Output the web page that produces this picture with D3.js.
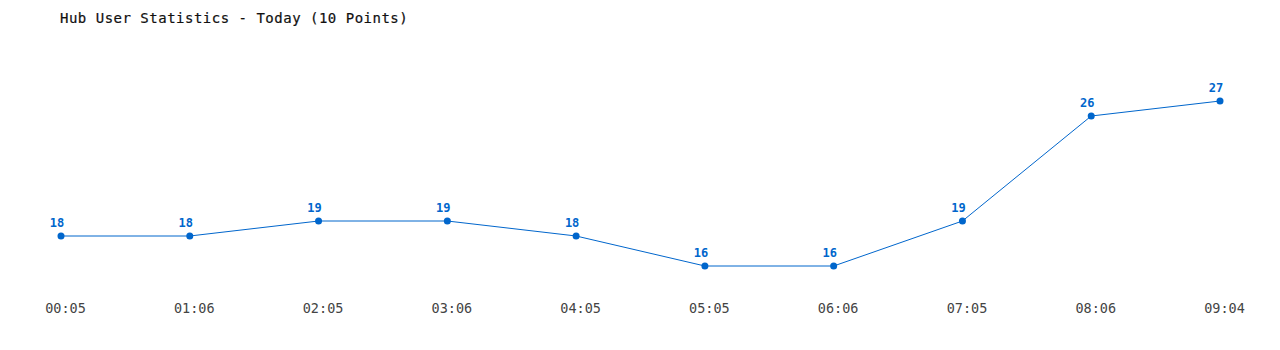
<!DOCTYPE html>
<html>
<head>
<meta charset="utf-8">
<script src="https://cdn.jsdelivr.net/npm/d3@7"></script>
<style>
  body { margin: 0; background: #fff; }
  svg { display: block; }
</style>
</head>
<body>
<div id="chart"></div>
<script>
var width = 1280, height = 350;

var times = ['00:05', '01:06', '02:05', '03:06', '04:05', '05:05', '06:06', '07:05', '08:06', '09:04'];
var users = [18, 18, 19, 19, 18, 16, 16, 19, 26, 27];
var title = 'Hub User Statistics - Today (10 Points)';

var data = times.map((t, i) => ({ time: t, value: users[i] }));

var svg = d3.select('#chart').append('svg')
    .attr('width', width)
    .attr('height', height);

var x = d3.scalePoint()
    .domain(times)
    .range([61, 1220]);

var y = d3.scaleLinear()
    .domain([16, 27])
    .range([266, 101]);

svg.append('text')
    .attr('x', 60)
    .attr('y', 23)
    .attr('font-family', 'DejaVu Sans Mono, monospace')
    .attr('font-size', 14)
    .attr('letter-spacing', 0.5)
    .attr('fill', '#111')
    .attr('stroke', '#111')
    .attr('stroke-width', 0.2)
    .text(title);

var line = d3.line()
    .x((d) => x(d.time))
    .y((d) => y(d.value));

svg.append('path')
    .datum(data)
    .attr('d', line)
    .attr('fill', 'none')
    .attr('stroke', '#0066cc')
    .attr('stroke-width', 1);

svg.selectAll('circle.pt')
    .data(data)
    .enter().append('circle')
    .attr('class', 'pt')
    .attr('cx', (d) => x(d.time))
    .attr('cy', (d) => y(d.value))
    .attr('r', 3.5)
    .attr('fill', '#0066cc');

svg.selectAll('text.val')
    .data(data)
    .enter().append('text')
    .attr('class', 'val')
    .attr('x', (d) => x(d.time) - 4)
    .attr('y', (d) => y(d.value) - 9)
    .attr('text-anchor', 'middle')
    .attr('font-family', 'DejaVu Sans Mono, monospace')
    .attr('font-size', 12)
    .attr('font-weight', 'bold')
    .attr('fill', '#0066cc')
    .text((d) => d.value);

// time labels along the bottom, no axis line in the original
var xAxis = svg.append('g')
    .attr('transform', 'translate(4, 313)')
    .call(d3.axisBottom(x).tickSize(0).tickPadding(0));
xAxis.select('.domain').remove();
xAxis.selectAll('text')
    .attr('dy', 0)
    .attr('font-family', 'DejaVu Sans Mono, monospace')
    .attr('font-size', 13.5)
    .attr('fill', '#444');
</script>
</body>
</html>
